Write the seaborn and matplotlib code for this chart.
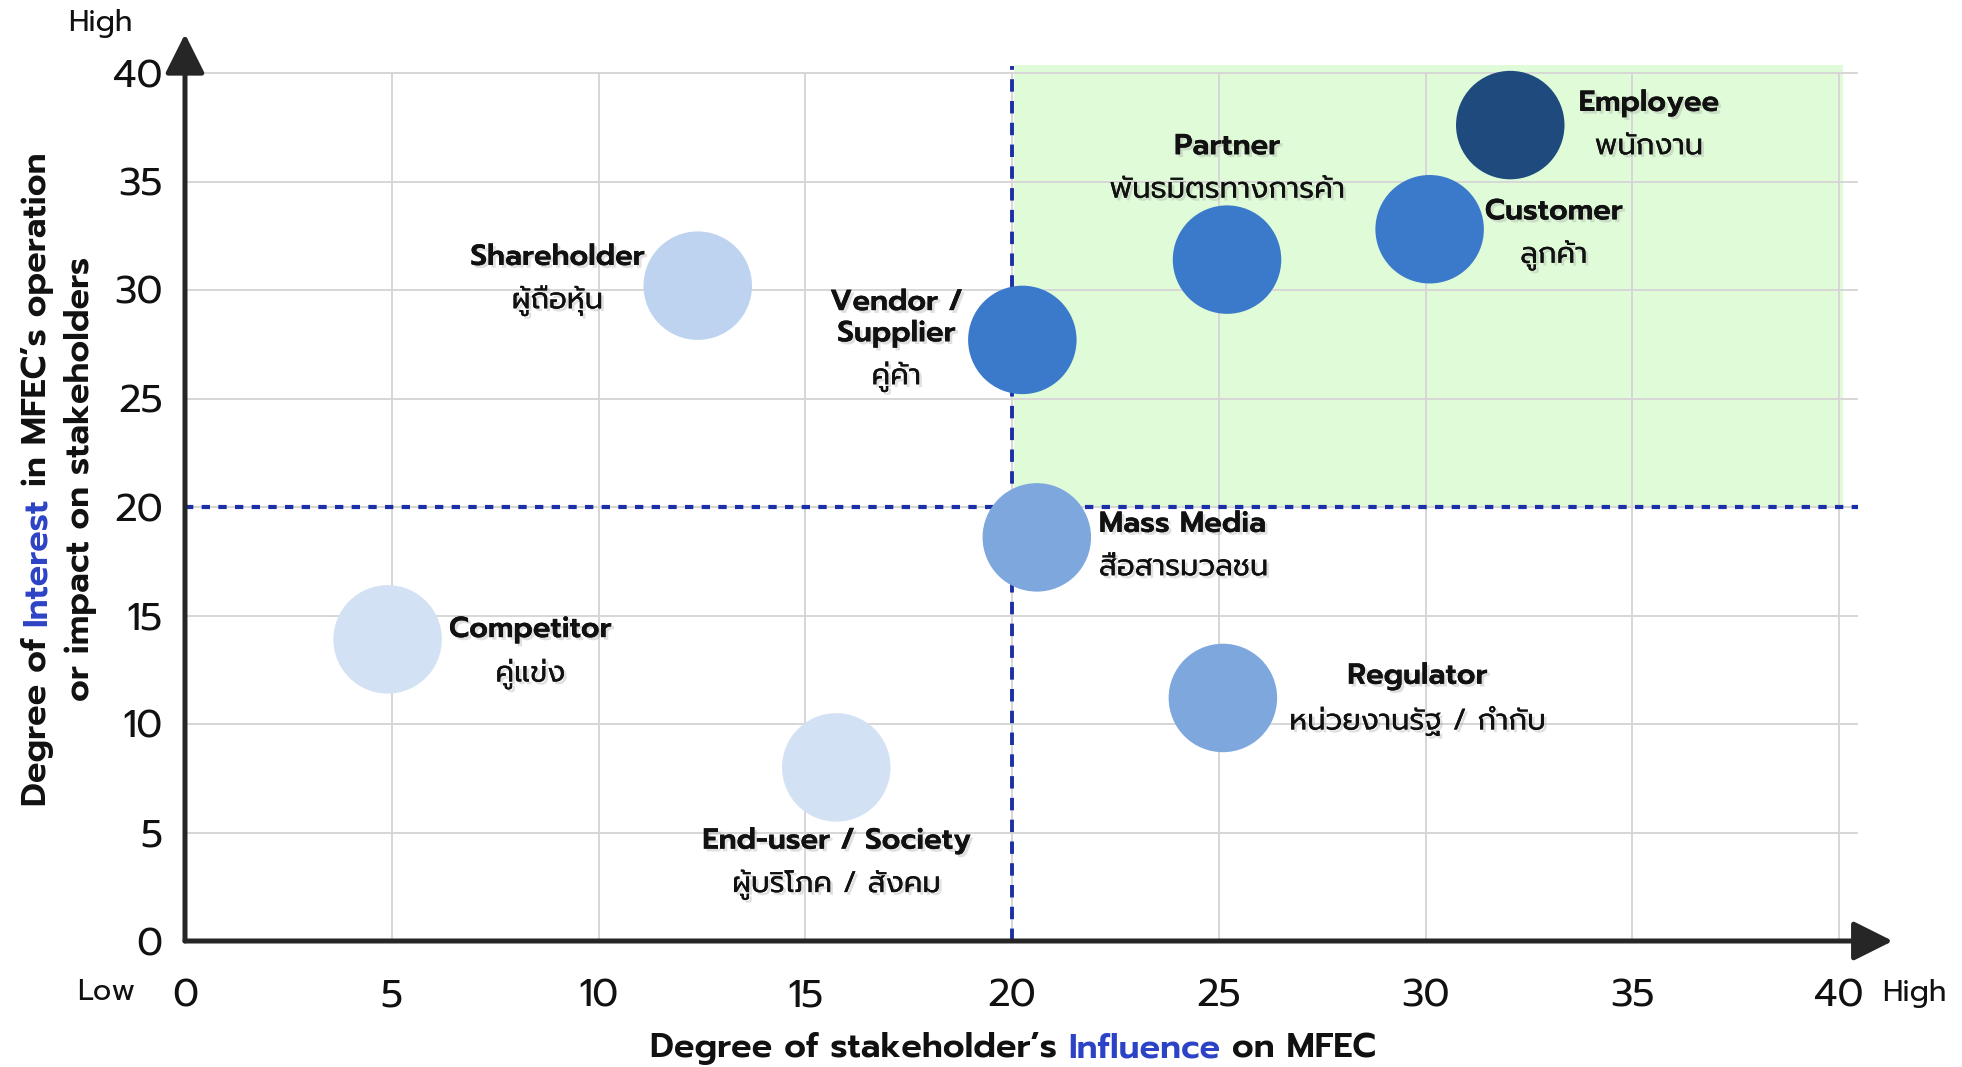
import matplotlib
matplotlib.use("Agg")
import matplotlib.pyplot as plt
import matplotlib.patheffects as pe
from matplotlib.patches import Rectangle
from matplotlib.transforms import IdentityTransform
import seaborn as sns
import pandas as pd

# ---------------- data ----------------
stakeholders = ["Shareholder", "Vendor / Supplier", "Partner", "Customer", "Employee",
                "Mass Media", "Competitor", "Regulator", "End-user / Society"]
thai_names = ["ผู้ถือหุ้น", "คู่ค้า", "พันธมิตรทางการค้า", "ลูกค้า", "พนักงาน",
              "สื่อสารมวลชน", "คู่แข่ง", "หน่วยงานรัฐ / กำกับ", "ผู้บริโภค / สังคม"]
influence = [12.4, 20.25, 25.2, 30.1, 32.05, 20.6, 4.9, 25.1, 15.75]
interest = [30.2, 27.7, 31.4, 32.8, 37.6, 18.6, 13.9, 11.2, 8.0]
bubble_colors = ["#bdd3ef", "#3b7acb", "#3b7acb", "#3b7acb", "#1f4a7e",
                 "#7ea7de", "#d3e1f4", "#7ea7de", "#d3e1f4"]
x_ticks = [0, 5, 10, 15, 20, 25, 30, 35, 40]
y_ticks = [0, 5, 10, 15, 20, 25, 30, 35, 40]
threshold_x = 20
threshold_y = 20

# label placement (x, y of English line, y of Thai line, alignment)
label_pos = {
    "Shareholder": (9.0, 31.5, 29.5, "center"),
    "Vendor / Supplier": (17.2, 28.7, 26.0, "center"),
    "Partner": (25.2, 36.6, 34.6, "center"),
    "Customer": (33.1, 33.6, 31.6, "center"),
    "Employee": (35.4, 38.6, 36.6, "center"),
    "Mass Media": (22.1, 19.2, 17.2, "left"),
    "Competitor": (8.35, 14.35, 12.3, "center"),
    "Regulator": (29.8, 12.2, 10.1, "center"),
    "End-user / Society": (15.75, 4.6, 2.6, "center"),
}
en_display = {"Vendor / Supplier": "Vendor /\nSupplier"}

df = pd.DataFrame({"name": stakeholders, "thai": thai_names,
                   "influence": influence, "interest": interest})

# ---------------- style ----------------
sns.set_style("white")
FONT = ["Prompt", "DejaVu Sans"]
plt.rcParams["font.family"] = FONT

W, H = 1962, 1067
fig = plt.figure(figsize=(W / 100, H / 100), dpi=100)

x0_px, x40_px = 185, 1839
y0_px, y40_px = 126, 994
xmax, ymax = 40.45, 40.4
ax_w = (x40_px - x0_px) / 40 * xmax
ax_h = (y40_px - y0_px) / 40 * ymax
ax = fig.add_axes([x0_px / W, y0_px / H, ax_w / W, ax_h / H])
ax.set_xlim(0, xmax)
ax.set_ylim(0, ymax)
for s in ax.spines.values():
    s.set_visible(False)

# green high/high quadrant
ax.add_patch(Rectangle((threshold_x + 0.06, threshold_y), 40.1 - threshold_x - 0.06,
                       40.35 - threshold_y, facecolor="#dffbd8", edgecolor="none", zorder=0))

# grid
grid_c = "#d6d6d6"
ax.vlines(x_ticks[1:], 0, 40, colors=grid_c, lw=1.4, zorder=1)
ax.hlines(y_ticks[1:], 0, xmax, colors=grid_c, lw=1.4, zorder=1)

# threshold dashed lines
dash_c = "#1b2fa6"
ax.plot([threshold_x, threshold_x], [0, 40.3], color=dash_c, lw=2.8,
        dashes=(3.2, 2.4), zorder=2)
ax.plot([0, xmax], [threshold_y, threshold_y], color=dash_c, lw=3.0,
        dashes=(2.0, 2.0), zorder=2)

# bubbles
palette = dict(zip(stakeholders, bubble_colors))
sns.scatterplot(data=df, x="influence", y="interest", hue="name", palette=palette,
                s=6100, linewidth=0, legend=False, ax=ax, zorder=5)

# axes arrows
arrow_kw = dict(arrowstyle="-|>,head_length=1.1,head_width=0.55", lw=3.6,
                color="#262626", mutation_scale=22, shrinkA=0, shrinkB=0)
ax.annotate("", xy=(0, 41.8), xytext=(0, 0), arrowprops=arrow_kw,
            annotation_clip=False, zorder=6)
ax.annotate("", xy=(41.3, 0), xytext=(0, 0), arrowprops=arrow_kw,
            annotation_clip=False, zorder=6)

# ticks
ax.set_xticks(x_ticks)
ax.set_yticks(y_ticks)
ax.set_xticklabels([str(t) for t in x_ticks])
ax.set_yticklabels([str(t) for t in y_ticks])
ax.tick_params(axis="x", length=0, pad=27, labelsize=28, labelcolor="#111111")
ax.tick_params(axis="y", length=0, pad=16, labelsize=28, labelcolor="#111111")
for lab in ax.get_xticklabels() + ax.get_yticklabels():
    lab.set_fontweight("normal")
ax.set_xlabel("")
ax.set_ylabel("")

# labels
shadow = [pe.withSimplePatchShadow(offset=(2, -2), shadow_rgbFace="#9a9a9a", alpha=0.3),
          pe.Normal()]
for name, thai in zip(stakeholders, thai_names):
    x, ye, yt, ha = label_pos[name]
    ax.text(x, ye, en_display.get(name, name), ha=ha, va="center", fontsize=21,
            fontweight="semibold", color="#111111", linespacing=1.1,
            path_effects=shadow, zorder=7)
    ax.text(x, yt, thai, ha=ha, va="center", fontsize=21, fontweight="normal",
            color="#111111", path_effects=shadow, zorder=7)

# Low / High markers
fig.text(106 / W, 1 - 993 / H, "Low", ha="center", va="center", fontsize=21,
         color="#111111")
fig.text(1914 / W, 1 - 993 / H, "High", ha="center", va="center", fontsize=21,
         color="#111111")
fig.text(100 / W, 1 - 24 / H, "High", ha="center", va="center", fontsize=21,
         color="#111111")

# multi-colour axis titles
renderer = fig.canvas.get_renderer()


def rich_text(pieces, cx, cy, rotation, size=24.5, weight="semibold"):
    def width(s):
        t = fig.text(0, 0, s + "|", fontsize=size, fontweight=weight)
        w = t.get_window_extent(renderer).width
        t.remove()
        return w
    wbar = width("")
    offs, prefix = [], ""
    for p, _ in pieces:
        offs.append(width(prefix) - wbar if prefix else 0.0)
        prefix += p
    total = width(prefix) - wbar
    for (p, c), off in zip(pieces, offs):
        d = off - total / 2
        x, y = (cx + d, cy) if rotation == 0 else (cx, cy + d)
        fig.text(x, y, p, transform=IdentityTransform(), rotation=rotation,
                 rotation_mode="anchor", ha="left", va="baseline",
                 fontsize=size, fontweight=weight, color=c)


BLK, BLU = "#111111", "#2d43c6"
rich_text([("Degree of stakeholder’s ", BLK), ("Influence", BLU), (" on MFEC", BLK)],
          1013, 10, 0)
rich_text([("Degree of ", BLK), ("Interest", BLU), (" in MFEC’s operation", BLK)],
          46, 588, 90)
rich_text([("or impact on stakeholders", BLK)], 89, 588, 90)

fig.savefig("out.png", dpi=100)
